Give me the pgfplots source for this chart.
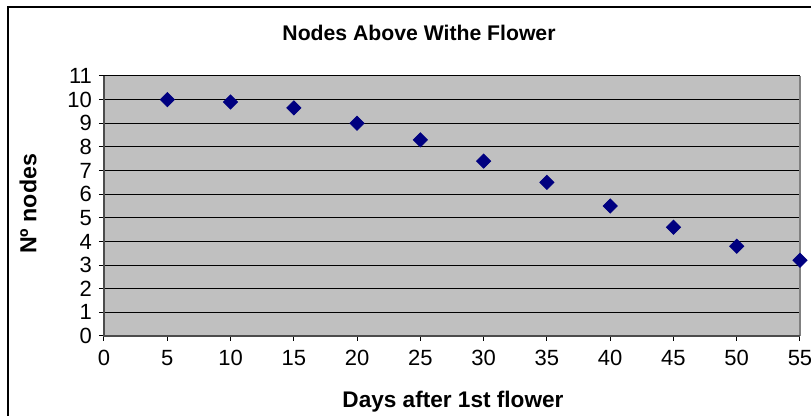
\documentclass[border=0pt]{standalone}
\usepackage{fontspec}
\setmainfont{Liberation Sans}
\usepackage{pgfplots}
\pgfplotsset{compat=1.18}
\definecolor{plotgray}{HTML}{C0C0C0}
\definecolor{navy}{HTML}{000080}
\definecolor{axgray}{HTML}{808080}
\begin{document}
\begin{tikzpicture}
\useasboundingbox (0pt,0pt) rectangle (405.5pt,208pt);
\clip (0pt,0pt) rectangle (405.5pt,208pt);
\draw[black, line width=0.8pt] (4pt,-10pt) -- (4pt,204.5pt) -- (415pt,204.5pt);
\node[font=\bfseries\fontsize{10.6}{12}\selectfont] at (209.5pt,191.5pt) {Nodes Above Withe Flower};
\node[font=\bfseries\fontsize{11.6}{13}\selectfont, rotate=90] at (14pt,106pt) {Nº nodes};
\node[font=\bfseries\fontsize{11.3}{13}\selectfont] at (226.5pt,7pt) {Days after 1st flower};
\begin{axis}[
  at={(52pt,40pt)}, anchor=south west,
  scale only axis, width=348pt, height=130pt,
  xmin=0, xmax=55, ymin=0, ymax=11,
  xtick={0,5,...,55}, ytick={0,1,...,11},
  axis background/.style={fill=plotgray},
  axis line style={draw=none},
  ymajorgrids, grid style={black, line width=0.5pt},
  tick align=outside, major tick length=2.5pt,
  tick style={black, line width=0.5pt},
  xtick pos=bottom, ytick pos=left,
  ticklabel style={font=\fontsize{11}{12}\selectfont},
  xticklabel style={yshift=-1pt},
  /pgf/number format/assume math mode=true,
  clip=false,
]
\draw[axgray, line width=0.8pt] (axis cs:55,0) -- (axis cs:55,11);
\draw[black!70, line width=1pt] (axis cs:0,11) -- (axis cs:0,0) -- (axis cs:55,0);
\addplot[only marks, mark=square*, mark size=2.5pt, mark options={rotate=45, fill=navy, draw=navy}] coordinates {
(5,10.0) (10,9.9) (15,9.65) (20,9.0) (25,8.3) (30,7.4) (35,6.5) (40,5.5) (45,4.6) (50,3.8) (55,3.2)
};
\end{axis}
\end{tikzpicture}
\end{document}
